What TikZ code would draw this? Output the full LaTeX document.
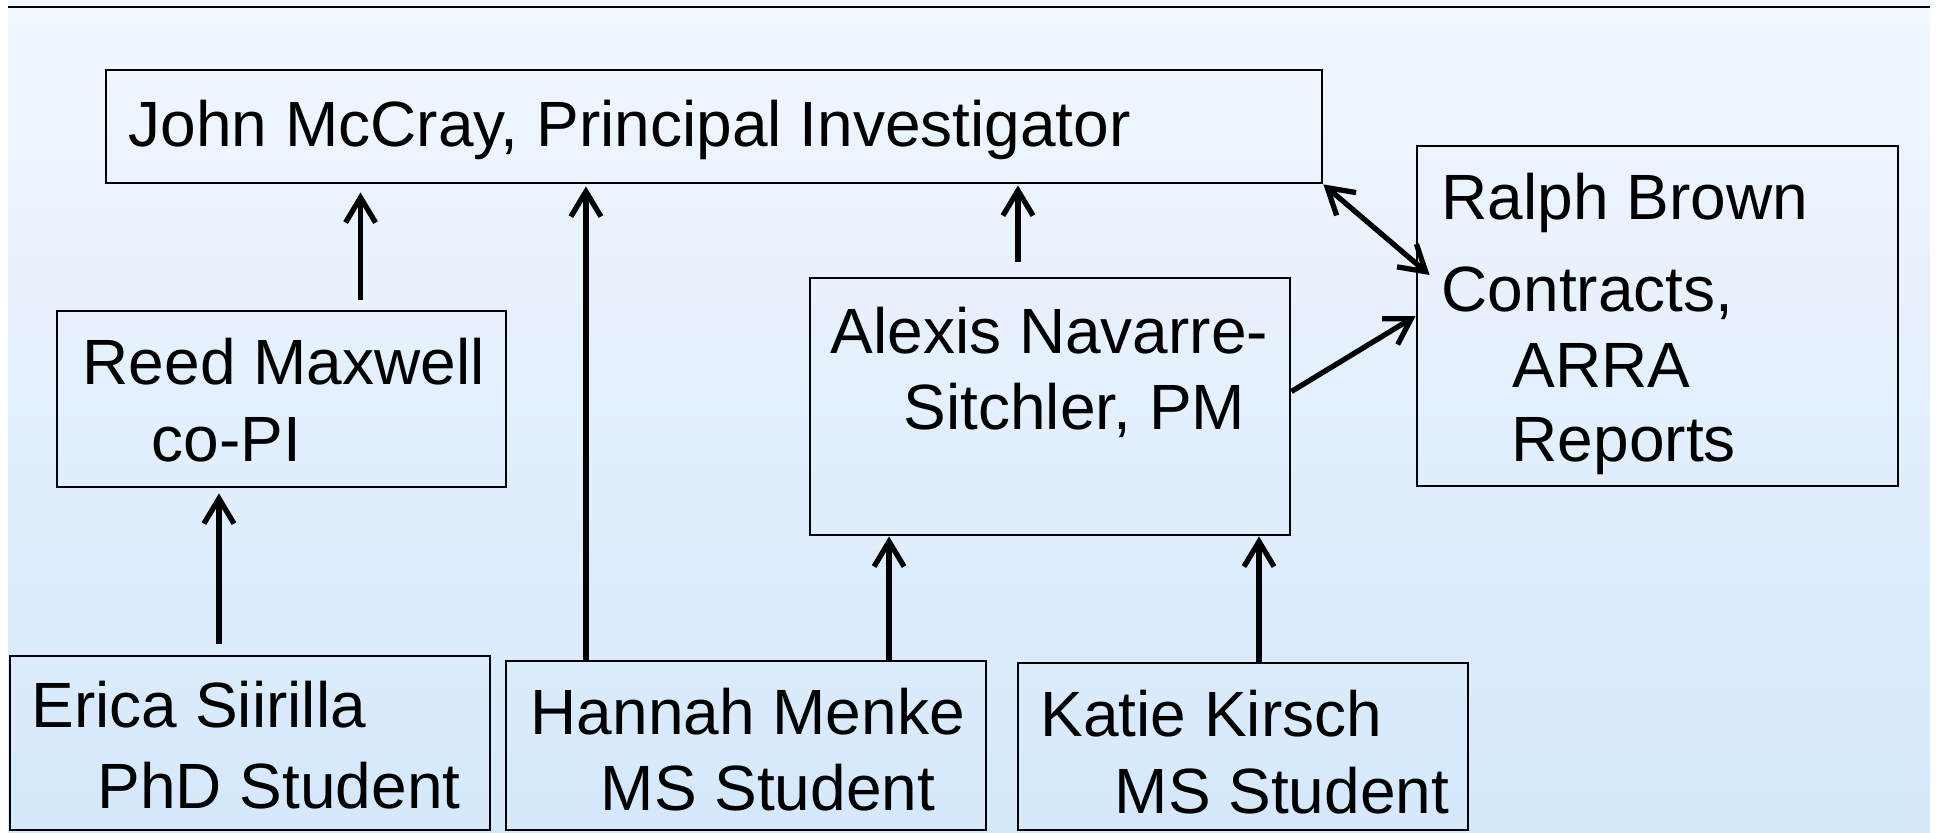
\documentclass[tikz,border=0pt]{standalone}
\usepackage{fontspec}
\setmainfont{Liberation Sans}
\usetikzlibrary{arrows.meta}
\definecolor{bgtop}{RGB}{241,247,254}
\definecolor{bgbottom}{RGB}{213,232,252}
\begin{document}
\begin{tikzpicture}[x=0.01cm, y=-0.01cm]
	\tikzstyle{box} = [ draw, rectangle, line width=0.8pt, inner sep=0pt ];
	\tikzstyle{txt} = [ inner sep=0pt, anchor=base west, font={\fontsize{18.2}{22}\selectfont} ];
	\tikzstyle{link} = [ line width=1.5pt, -{Straight Barb[length=2.5mm, width=3mm, line width=1.5pt]} ];
	\tikzstyle{both} = [ line width=1.5pt, {Straight Barb[length=2.5mm, width=3mm, line width=1.5pt]}-{Straight Barb[length=2.5mm, width=3mm, line width=1.5pt]} ];

	\useasboundingbox (0,0) rectangle (1939,832);
	\shade[top color=bgtop, bottom color=bgbottom] (8,0) rectangle (1930,832);
	\draw[line width=0.8pt] (8,7) -- (1930,7);

	% boxes: name / left / top / right / bottom
	\foreach \n/\xa/\ya/\xb/\yb in {john/106/70/1322/183, ralph/1417/146/1898/486,
		reed/57/311/506/487, alexis/810/278/1290/535, erica/10/656/490/830,
		hannah/506/661/986/830, katie/1018/663/1468/830} {
		\node[box, minimum width={(\xb-\xa)*0.01cm}, minimum height={(\yb-\ya)*0.01cm}]
			(\n) at ({(\xa+\xb)/2},{(\ya+\yb)/2}) {};
	}

	% text lines
	\foreach \n/\x/\y/\t in {johnA/128/146/{John McCray, Principal Investigator},
		ralphA/1441/219/{Ralph Brown}, ralphB/1441/311/{Contracts,},
		ralphC/1512/387/{ARRA}, ralphD/1511/461/{Reports},
		reedA/82/384/{Reed Maxwell}, reedB/151/461/{co-PI},
		alexisA/830/353/{Alexis Navarre-}, alexisB/903/429/{Sitchler, PM},
		ericaA/31/727/{Erica Siirilla}, ericaB/97/808/{PhD Student},
		hannahA/530/734/{Hannah Menke}, hannahB/600/810/{MS Student},
		katieA/1040/736/{Katie Kirsch}, katieB/1114/813/{MS Student}} {
		\node[txt] (\n) at (\x,\y) {\t};
	}

	% reporting lines
	\draw[link, shorten <=0.1cm, shorten >=0.08cm] ([xshift=0.79cm]reed.north) -- ([xshift=0.79cm]reed.north |- john.south);
	\draw[link, shorten <=0.11cm, shorten >=0.05cm] ([xshift=-0.31cm]erica.north) -- ([xshift=-0.31cm]erica.north |- reed.south);
	\draw[link, shorten >=0.02cm] ([xshift=-1.6cm]hannah.north) -- ([xshift=-1.6cm]hannah.north |- john.south);
	\draw[link, shorten <=0.15cm, shorten >=0.01cm] ([xshift=-0.32cm]alexis.north) -- ([xshift=-0.32cm]alexis.north |- john.south);
	\draw[link] ([xshift=1.43cm]hannah.north) -- ([xshift=1.43cm]hannah.north |- alexis.south);
	\draw[link] ([xshift=0.16cm]katie.north) -- ([xshift=0.16cm]katie.north |- alexis.south);
	\draw[link] ([yshift=0.15cm]alexis.east) -- (ralph.west);
	\draw[both] (john.south east) -- ([shift={(0.14cm,0.41cm)}]ralph.west);
\end{tikzpicture}
\end{document}
